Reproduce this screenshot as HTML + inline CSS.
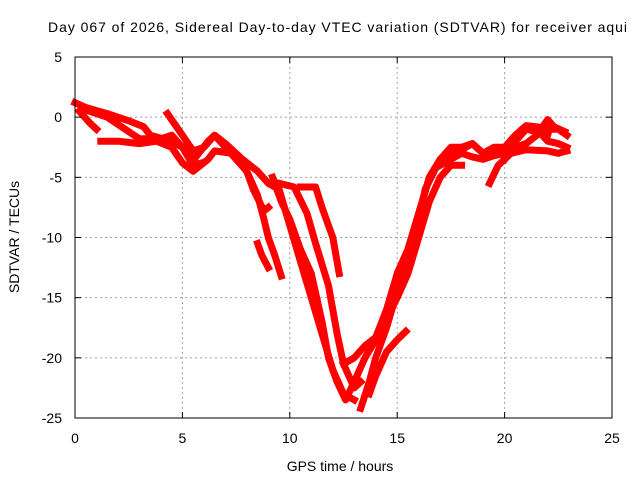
<!DOCTYPE html>
<html><head><meta charset="utf-8"><style>
html,body{margin:0;padding:0;background:#fff;}
svg{display:block;font-family:"Liberation Sans",sans-serif;}
</style></head><body>
<svg id="chart" width="640" height="480">
<text x="48" y="32" font-size="14" textLength="579">Day 067 of 2026, Sidereal Day-to-day VTEC variation (SDTVAR) for receiver aqui</text>
<g id="grid"></g>
<g id="series"></g>
<rect x="75" y="57" width="537" height="361" fill="none" stroke="#000" stroke-width="1"/>
<g id="axes"></g>
<text x="340" y="471" font-size="14" text-anchor="middle">GPS time / hours</text>
<text transform="translate(19,237) rotate(-90)" font-size="14" text-anchor="middle">SDTVAR / TECUs</text>
</svg>
<script>
const xTicks=[0,5,10,15,20,25];
const yTicks=[5,0,-5,-10,-15,-20,-25];
const s1=[[0,1.2],[0.5,0.8],[1.5,0.3],[2.5,-0.3],[3.2,-0.8],[3.5,-1.5],[4.5,-2],[5,-2.5],[5.5,-4],[5.9,-3.8]];
const s2=[[0.2,0.5],[0.7,-0.5],[1,-1]];
const s3=[[0.5,0.6],[1.5,0],[2.5,-1.2],[3,-1.8],[4,-1.8],[4.5,-1.5],[5,-2.5],[5.5,-3.6],[6.2,-2],[6.5,-1.5],[7,-2.5],[7.5,-3.5],[8,-4.5],[8.5,-6.5],[8.8,-8.5],[9,-10],[9.3,-11.5],[9.6,-13.2]];
const s4=[[1.2,-2],[2,-2],[3,-2.2],[3.8,-2],[4.5,-2.5],[5,-3.8],[5.5,-4.5],[6.2,-3.5],[6.5,-2.8],[7.3,-3],[8,-4.5],[8.3,-6],[8.8,-7.8],[9,-7.5]];
const s5=[[8.5,-10.5],[8.7,-11.5],[9,-12.5]];
const s6=[[4.3,0.3],[5,-1.5],[5.5,-2.8],[6,-2.5],[6.5,-1.5],[7,-2.2],[7.8,-3.5],[8.5,-4.5],[9,-5.5],[9.5,-6],[10,-9],[10.5,-12],[11,-15],[11.5,-18],[12,-21],[12.5,-23],[13,-23.5]];
const s7=[[9.5,-5.5],[10.2,-5.8],[10.8,-8],[11.2,-10.5],[11.8,-14],[12.2,-18],[12.5,-20.5],[13,-22.5],[13.3,-22]];
const s8=[[10.5,-5.8],[11.2,-5.8],[11.5,-7.5],[12,-10],[12.3,-13]];
const s9=[[9.2,-5],[9.6,-7],[10,-8.5],[10.5,-11],[11,-13],[11.5,-17],[11.8,-20],[12.2,-22],[12.6,-23.5],[13,-22],[13.5,-20],[14,-18.5],[14.5,-16.5],[15,-13],[15.5,-11],[16,-8],[16.5,-5],[17,-3.5],[17.5,-3],[18,-2.7],[18.5,-2.2],[19,-3],[19.5,-2.8],[20,-2.8],[20.5,-2],[21,-1],[21.5,-1.2],[22,-1.5]];
const r1=[[12.5,-20.5],[13,-20],[13.5,-19],[14,-18.3],[14.5,-16],[15,-13],[15.5,-11],[16,-8],[16.5,-5],[17,-3.5],[17.5,-2.5],[18,-2.5],[18.5,-2.2],[19,-3],[19.5,-2.5],[20,-2.5],[20.5,-1.5],[21,-0.7],[21.5,-0.8],[22,-1],[22.5,-1],[22.9,-1.5]];
const r2=[[13.3,-24.2],[13.7,-22],[14,-20],[14.5,-17.5],[15,-14.5],[15.5,-12],[16,-9],[16.3,-6],[16.8,-4.2],[17.5,-3.5],[18,-3],[18.5,-3.3],[19,-3.5],[19.5,-3.2],[20,-3],[20.5,-2.5],[21,-2.2],[21.5,-1.5],[22,-0.2],[22.3,-0.8],[22.8,-1.2]];
const r3=[[13.7,-23],[14,-21.5],[14.5,-19.5],[15,-18.5],[15.4,-17.8]];
const r4=[[14.3,-17.5],[15,-15],[15.5,-13],[16,-10],[16.5,-7],[17,-5],[17.5,-4],[18,-4]];
const r5=[[19.3,-5.5],[19.7,-4],[20.3,-3],[21,-2.7],[22,-2.8],[22.5,-3],[22.9,-2.8]];
const r6=[[20,-3.5],[20.5,-2],[21,-1],[21.5,-1],[22,-2],[22.5,-2.2],[22.9,-2.5]];
const allSeries=[s1,s2,s3,s4,s5,s6,s7,s8,s9,r1,r2,r3,r4,r5,r6];

const NS='http://www.w3.org/2000/svg';
const X0=75,X1=612,Y0=418,Y1=57;
function xs(t){return X0+(t-0)/(25-0)*(X1-X0);}
function ys(v){return Y0-(v+25)/(30)*(Y0-Y1);}
function mk(tag,attrs,parent){const e=document.createElementNS(NS,tag);for(const k in attrs)e.setAttribute(k,attrs[k]);parent.appendChild(e);return e;}
const grid=document.getElementById('grid'),axes=document.getElementById('axes'),ser=document.getElementById('series');
xTicks.forEach(t=>{
  const x=xs(t);
  if(t>0&&t<25){const g=mk('line',{x1:x,x2:x,y1:Y1,y2:Y0,stroke:'#a0a0a0','stroke-dasharray':'2,3'},grid);
  
  }
  const a=mk('line',{x1:x,x2:x,y1:Y0,y2:Y0-6,stroke:'#000'},axes);
  
  
  const b=mk('line',{x1:x,x2:x,y1:Y1,y2:Y1+6,stroke:'#000'},axes);
  
  
  const l=mk('text',{x:x,y:443,'font-size':14,'text-anchor':'middle'},axes);l.textContent=t;
  
  
});
yTicks.forEach(v=>{
  const y=ys(v);
  if(v<5&&v>-25){const g=mk('line',{x1:X0,x2:X1,y1:y,y2:y,stroke:'#a0a0a0','stroke-dasharray':'2,3'},grid);
  
  }
  const a=mk('line',{x1:X0,x2:X0+6,y1:y,y2:y,stroke:'#000'},axes);
  
  
  const b=mk('line',{x1:X1,x2:X1-6,y1:y,y2:y,stroke:'#000'},axes);
  
  
  const l=mk('text',{x:62,y:y+5,'font-size':14,'text-anchor':'end'},axes);l.textContent=v;
  
  
});
allSeries.forEach((s,i)=>{
  const d=s.map((p,j)=>(j?'L':'M')+xs(p[0]).toFixed(1)+','+ys(p[1]).toFixed(1)).join('');
  const p=mk('path',{d:d,fill:'none',stroke:'#ff0000','stroke-width':7,'stroke-linejoin':'round','stroke-linecap':'square'},ser);
  
  
});
</script>
</body></html>
